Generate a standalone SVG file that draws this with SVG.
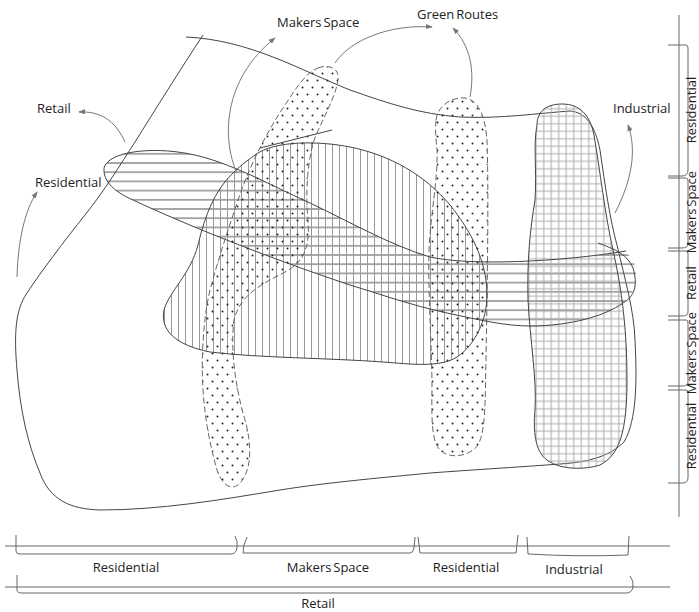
<svg xmlns="http://www.w3.org/2000/svg" width="699" height="612" viewBox="0 0 699 612">
<style>
text{font-family:"Open Sans","Noto Sans","Liberation Sans",sans-serif;font-size:13px;fill:#222}
.ws{word-spacing:-1.5px}
.ol{fill:none;stroke:#444;stroke-width:1}
.dash{fill:url(#dt);stroke:#666;stroke-width:1;stroke-dasharray:6 3}
.arr{fill:none;stroke:#777;stroke-width:1;marker-end:url(#ah)}
.br{fill:none;stroke:#666;stroke-width:1}
</style>
<defs>
<marker id="ah" viewBox="0 0 8 8" refX="7" refY="4" markerWidth="7" markerHeight="7" markerUnits="userSpaceOnUse" orient="auto">
<path d="M0,1 L8,4 L0,7 Z" fill="#777"/>
</marker>
<pattern id="hl" width="10" height="9.2" patternUnits="userSpaceOnUse" y="2">
<line x1="0" y1="4.6" x2="10" y2="4.6" stroke="#555" stroke-width="1"/>
</pattern>
<pattern id="vl" width="7" height="10" patternUnits="userSpaceOnUse">
<line x1="3.5" y1="0" x2="3.5" y2="10" stroke="#999" stroke-width="1"/>
</pattern>
<pattern id="dt" width="10" height="14" patternUnits="userSpaceOnUse">
<circle cx="2.5" cy="3.5" r="1" fill="#222"/>
<circle cx="7.5" cy="10.5" r="1" fill="#222"/>
</pattern>
<pattern id="gr" width="7.5" height="7.5" patternUnits="userSpaceOnUse">
<path d="M3.75,0 V7.5 M0,3.75 H7.5" stroke="#aaa" stroke-width="1" fill="none"/>
</pattern>
</defs>

<g id="retail-zone">
<path class="ol" d="M186,37 C250,40 300,70 350,90 C390,104 420,114 460,117 C500,119 540,113 570,111 C585,112 595,125 600,150 C605,185 610,220 617,245 C625,280 634,310 635,340 C637,380 637,420 624,442 C610,456 590,462 560,464 C520,467 470,470 430,473 C390,477 330,482 280,490 C220,500 160,510 100,510 C70,509 50,500 40,473 C28,445 20,410 17,370 C14,335 15,310 27,293 C40,273 65,240 85,215 C105,190 120,165 135,142 C155,110 180,70 203,35"/>
</g>

<g id="residential-zone">
<path fill="url(#hl)" stroke="none" d="M104,168 C108,152 150,146 190,154 C230,162 270,185 310,203 C350,222 390,245 430,257 C470,266 560,262 623,252 C640,256 641,292 623,303 C605,316 570,326 530,326 C505,326 480,320 447,313 C410,305 380,294 350,285 C260,255 180,222 133,200 C115,192 103,182 104,168 Z"/>
</g>

<g id="makers-zone">
<path fill="url(#vl)" stroke="none" d="M233,173 C215,190 205,215 198,245 C190,275 170,290 164,310 C160,330 175,345 210,352 C260,358 330,358 383,362 C410,364 440,368 457,357 C475,345 487,320 487,295 C487,260 470,230 450,205 C425,175 390,155 350,147 C320,141 275,140 255,155 C245,162 238,168 233,173 Z"/>
</g>

<g id="industrial-zone">
<path fill="url(#gr)" stroke="none" d="M537,125 C537,110 548,104 562,104 C580,104 590,115 594,135 C600,170 605,215 613,250 C622,290 627,330 627,380 C627,430 620,455 600,465 C585,470 560,470 547,460 C535,452 533,430 535,410 C537,380 530,340 528,300 C527,260 530,230 535,200 C537,170 533,145 537,125 Z"/>
</g>

<g id="makers-dotted">
<path class="dash" d="M318,68 C328,64 340,68 338,80 C336,95 325,115 316,135 C308,155 305,190 308,220 C310,245 305,262 285,272 C260,285 240,295 234,320 C230,350 236,390 245,420 C252,445 252,470 240,483 C232,492 222,485 217,470 C210,445 205,420 203,390 C201,360 203,320 210,290 C218,260 228,230 238,200 C250,165 265,135 285,105 C295,90 305,73 318,68 Z"/>
</g>

<g id="green-routes">
<path class="dash" d="M436,120 C438,105 452,97 465,98 C478,100 485,115 487,140 C489,200 487,300 486,360 C485,400 486,430 478,445 C470,456 450,460 440,450 C430,440 432,410 432,380 C431,330 428,290 429,250 C431,210 438,180 437,150 C436,140 435,130 436,120 Z"/>
</g>

<g id="outlines">
<path class="ol" d="M104,168 C108,152 150,146 190,154 C230,162 270,185 310,203 C350,222 390,245 430,257 C470,266 560,262 626,251 M598,243 C615,249 628,255 633,268 C638,285 635,296 623,303 C605,316 570,326 530,326 C505,326 480,320 447,313 C410,305 380,294 350,285 C260,255 180,222 133,200 C115,192 103,182 104,168"/>
<path class="ol" d="M233,173 C215,190 205,215 198,245 C190,275 170,290 164,310 C160,330 175,345 210,352 C260,358 330,358 383,362 C410,364 440,368 457,357 C475,345 487,320 487,295 C487,260 470,230 450,205 C425,175 390,155 350,147 C320,141 275,140 255,155 C245,162 238,168 233,173 M260,148 L332,130"/>
<path class="ol" d="M537,125 C537,110 548,104 562,104 C580,104 590,115 594,135 C600,170 605,215 613,250 C622,290 627,330 627,380 C627,430 620,455 600,465 C585,470 560,470 547,460 C535,452 533,430 535,410 C537,380 530,340 528,300 C527,260 530,230 535,200 C537,170 533,145 537,125 Z"/>
</g>

<g id="connectors">
<path class="arr" d="M125,142 C115,120 100,111 79,112"/>
<path class="arr" d="M17,277 C18,240 25,210 37,192"/>
<path class="arr" d="M237,173 C222,140 222,80 275,38"/>
<path class="arr" d="M335,63 C350,40 390,24 432,27"/>
<path class="arr" d="M470,97 C475,70 470,45 453,28"/>
<path class="arr" d="M615,213 C632,180 637,150 628,125"/>
</g>

<g id="labels">
<text x="37" y="113">Retail</text>
<text x="35" y="187">Residential</text>
<text x="277" y="27" class="ws">Makers Space</text>
<text x="417" y="19" class="ws">Green Routes</text>
<text x="613" y="113">Industrial</text>
</g>

<g id="bottom-scale">
<path class="br" d="M5,546 H670 M5,587 H670"/>
<path class="br" d="M16,535 V551 Q16,554 20,554 H231 Q236,554 237,548 Q238,541 235,536"/>
<path class="br" d="M247,537 Q243,545 243,553 H410 Q413,553 414,548 L415,537"/>
<path class="br" d="M418,537 L420,553 H516 L518,535"/>
<path class="br" d="M527,537 L528,554 Q580,557 628,555 L629,536"/>
<path class="br" d="M17,575 V590 Q17,593 22,593 H626 Q632,593 633,587 Q634,581 630,576"/>
<text x="126" y="572" text-anchor="middle">Residential</text>
<text x="328" y="572" text-anchor="middle" class="ws">Makers Space</text>
<text x="466" y="572" text-anchor="middle">Residential</text>
<text x="574" y="574" text-anchor="middle">Industrial</text>
<text x="318" y="608" text-anchor="middle">Retail</text>
</g>

<g id="right-scale">
<path class="br" d="M679,15 V517"/>
<path class="br" d="M668,45 H686 Q688,45 688,48 V170 Q688,176 682,176 H668"/>
<path class="br" d="M668,178 H686 Q688,178 688,181 V243 Q688,248 682,248 H668"/>
<path class="br" d="M668,251 H686 Q688,251 688,254 V312 Q688,316 682,316 H668"/>
<path class="br" d="M668,320 H686 Q688,320 688,323 V382 Q688,386 682,386 H668"/>
<path class="br" d="M668,390 H686 Q688,390 688,393 V478 Q688,483 682,483 H668"/>
<text x="696" y="110" text-anchor="middle" transform="rotate(-90 696 110)">Residential</text>
<text x="696" y="212" text-anchor="middle" class="ws" transform="rotate(-90 696 212)">Makers Space</text>
<text x="696" y="283" text-anchor="middle" transform="rotate(-90 696 283)">Retail</text>
<text x="696" y="353" text-anchor="middle" class="ws" transform="rotate(-90 696 353)">Makers Space</text>
<text x="696" y="436" text-anchor="middle" transform="rotate(-90 696 436)">Residential</text>
</g>
</svg>
